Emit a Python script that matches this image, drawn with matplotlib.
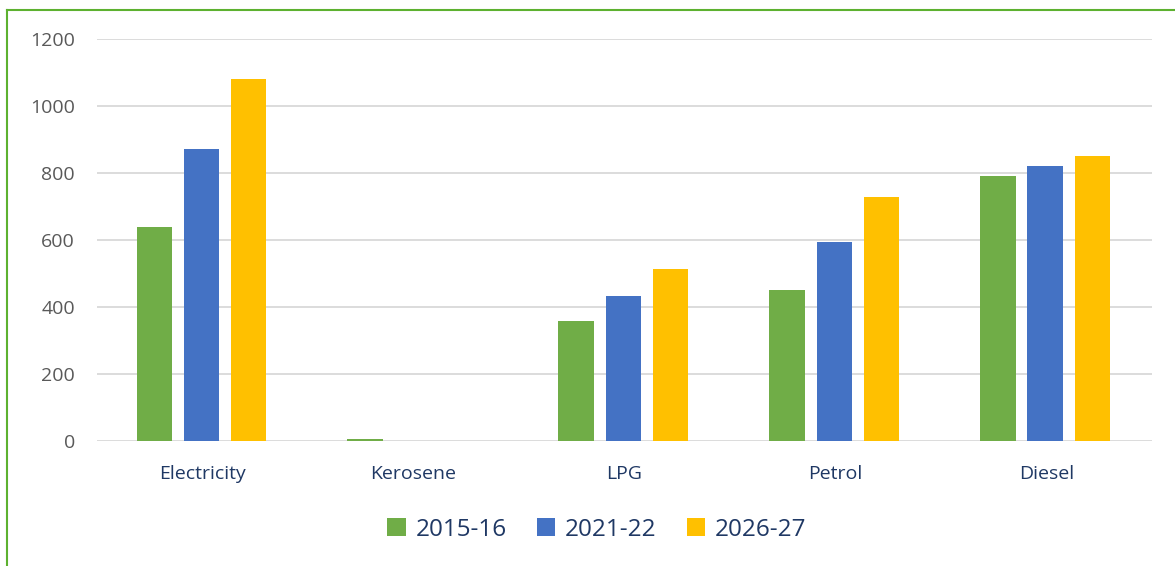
import numpy as np
import matplotlib
matplotlib.use("Agg")
import matplotlib.pyplot as plt
from matplotlib.lines import Line2D

# Data
categories = ["Electricity", "Kerosene", "LPG", "Petrol", "Diesel"]
series_names = ["2015-16", "2021-22", "2026-27"]
vals_2015 = [640, 5, 358, 452, 791]
vals_2021 = [873, 0, 434, 595, 822]
vals_2026 = [1082, 0, 514, 729, 852]
colors = ["#70AD47", "#4472C4", "#FFC000"]

plt.rcParams["font.family"] = ["Open Sans", "DejaVu Sans"]

fig = plt.figure(figsize=(11.75, 5.66), dpi=100)
ax = fig.add_axes([0.0826, 0.2208, 0.8978, 0.7103])

x = np.arange(len(categories))
slot = 0.223
width = 0.17
for i, (vals, col, name) in enumerate(zip([vals_2015, vals_2021, vals_2026], colors, series_names)):
    ax.bar(x + (i - 1) * slot - 0.005, vals, width=width, color=col, label=name, zorder=3)

ax.set_xlim(-0.5, len(categories) - 0.5)
ax.set_ylim(0, 1200)
ax.set_yticks(range(0, 1201, 200))
ax.grid(axis="y", color="#D9D9D9", linewidth=1.3, zorder=0)
for s in ax.spines.values():
    s.set_visible(False)
ax.tick_params(axis="both", length=0)
ax.tick_params(axis="y", labelsize=14, labelcolor="#595959", pad=16)
ax.tick_params(axis="x", labelsize=14, labelcolor="#1F3864", pad=17)
ax.set_xticks(x)
ax.set_xticklabels(categories)

leg = fig.legend(loc="center", bbox_to_anchor=(0.508, 0.064), ncol=3, frameon=False,
                 fontsize=17.5, handlelength=0.75, handleheight=0.75,
                 handletextpad=0.4, columnspacing=1.25)
for t in leg.get_texts():
    t.set_color("#1F3864")

# green frame (top and left edges)
fig.add_artist(Line2D([7 / 1175, 7 / 1175], [0, 1 - 10 / 566], color="#5DB130", linewidth=1.5))
fig.add_artist(Line2D([7 / 1175, 1], [1 - 10 / 566, 1 - 10 / 566], color="#5DB130", linewidth=1.5))

fig.savefig("out.png", dpi=100)
